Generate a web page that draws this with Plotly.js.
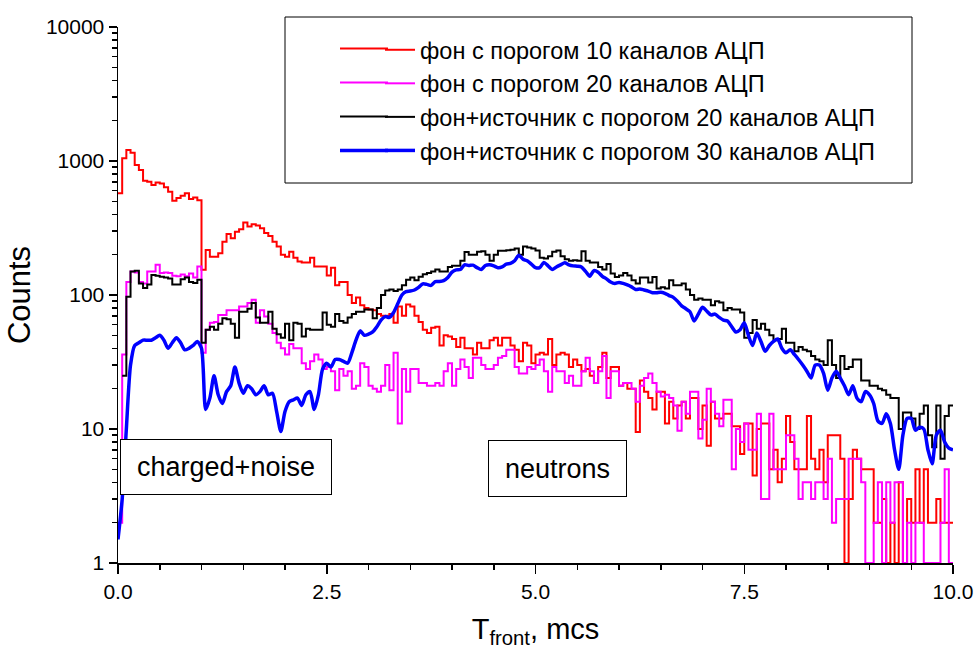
<!DOCTYPE html>
<html>
<head>
<meta charset="utf-8">
<script src="https://cdn.plot.ly/plotly-3.0.1.min.js"></script>
<style>
  html, body { margin: 0; padding: 0; background: #fff; }
  #chart { width: 976px; height: 652px; }
</style>
</head>
<body>
<div id="chart"></div>
<script>
// Histogram bins: 0.05 mcs wide, starting at 0
const binStart = 0;
const binWidth = 0.05;

const seriesNames = [
  "фон с порогом 10 каналов АЦП",
  "фон с порогом 20 каналов АЦП",
  "фон+источник с порогом 20 каналов АЦП",
  "фон+источник с порогом 30 каналов АЦП"
];

// фон, порог 10 (red), 200 bins
const bg10 = [
  574, 1050, 1208, 1153, 934, 857, 713, 700, 662, 690, 680, 637, 590, 506, 530, 550, 575, 520, 535, 510,
  154, 217, 193, 193, 205, 250, 285, 265, 297, 310, 347, 325, 337, 330, 315, 290, 276, 250, 230, 200,
  193, 210, 190, 178, 175, 175, 190, 163, 163, 163,
  140, 160, 118, 125, 125, 100, 87, 96, 84, 80, 78, 77, 72, 70, 70, 72, 62, 82, 70, 85,
  82, 70, 63, 55, 52, 57, 58, 42, 50, 49, 47, 41, 48, 40, 40, 36, 44, 40, 40, 46,
  48, 42, 48, 48, 42, 39, 32, 44, 42, 31, 36,
  37, 36, 47, 30, 36, 37, 36, 29, 33, 30, 27, 28, 25, 22, 29, 37, 24, 29, 29, 21,
  22, 20, 20, 9.5, 23, 19, 17, 14, 19, 19, 11, 16, 12, 15, 16, 12, 17, 17, 10, 15,
  7.5, 16, 12, 12, 13, 13, 10.5, 10.5, 6.5, 11,
  11, 4.5, 10, 11, 11, 5, 7, 4, 6, 12.5, 8, 5, 5, 5, 12.5, 6, 5, 7, 4, 9,
  9, 9, 6, 1, 3, 7, 6, 5, 5, 5, 2, 2, 3, 1, 2, 1, 4, 1, 3, 2,
  5, 2, 5, 2, 2, 3, 2, 2, 2
];

// фон, порог 20 (magenta), 200 bins
const bg20 = [
  2, 36, 125, 150, 147, 125, 122, 150, 150, 168, 146, 147, 146, 139, 138, 142, 138, 145, 135, 163,
  37, 55, 62, 63, 71, 71, 77, 77, 77, 82, 82, 87, 92, 62, 77, 69, 61, 52, 44, 40,
  36, 43, 40, 40, 31, 28, 32, 36, 33, 28,
  29, 27, 19.5, 28, 25, 27, 20, 21, 31, 29, 21, 20, 19, 21, 30, 19.5, 37, 11, 28, 19,
  28, 28, 22, 22, 21, 21, 22, 21, 27, 31, 21, 28, 33, 29, 24, 34, 34, 30, 28, 28,
  30, 34, 35, 39, 39, 29, 26, 26, 29, 28, 30,
  33, 27, 19, 29, 27, 27, 22, 25, 21, 21, 27, 34, 27, 22, 27, 35, 17, 27, 27, 21,
  22, 22, 20, 16, 21, 24, 26, 22, 19, 17.5, 18, 17, 15, 9.7, 16, 13, 19, 19, 8.5, 11.7,
  20, 16, 13, 10.5, 16.5, 16.5, 5, 10, 8, 11,
  7, 7, 13, 3, 3, 13, 5, 5, 5, 9, 9, 6, 3, 4, 4, 3, 4, 4, 3, 6,
  2, 3, 3, 3, 6, 6, 6, 4, 1, 1, 2, 4, 1, 4, 2, 4, 4, 1, 2, 1,
  2, 2, 1, 1, 1, 1, 2, 5, 1
];

// фон+источник, порог 20 (black), 200 bins
const src20 = [
  null, 25, 97, 150, 152, 122, 113, 120, 141, 139, 137, 135, 133, 120, 120, 131, 135, 125, 123, 130,
  44, 55, 58, 55, 61, 67, 66, 61, 48, 75, 75, 79, 87, 68, 62, 62, 75, 56, 51, 48,
  61, 46, 62, 61, 49, 56, 55, 55, 55, 74,
  60, 58, 72, 64, 62, 68, 72, 75, 75, 78, 78, 67, 80, 100, 108, 110, 107, 110, 118, 130,
  135, 129, 137, 143, 146, 150, 155, 150, 150, 162, 165, 165, 180, 209, 200, 200, 210, 212, 200, 180,
  200, 214, 214, 216, 218, 222, 200, 230, 226, 222, 215,
  190, 187, 195, 210, 215, 195, 185, 180, 182, 180, 212, 180, 175, 175, 162, 155, 170, 145, 136, 140,
  146, 140, 129, 122, 135, 135, 124, 136, 112, 114, 112, 129, 118, 118, 122, 110, 100, 92, 94, 92,
  92, 84, 90, 88, 77, 80, 78, 78, 74, 48,
  52, 65, 56, 61, 55, 50, 46, 47, 56, 44, 44, 38, 41, 39, 38, 35, 33, 32, 30, 46,
  30, 24, 35, 28, 29, 33, 33, 23, 23, 21, 21, 20, 19.5, 18, 17, 17, 10, 13.3, 13.3, 12,
  10, 13, 15, 9, 7.3, 15, 6, 12.5, 15
];

// фон+источник, порог 30 (blue, smooth), sampled every 0.05 from 0 to 10
const src30 = [
  1.5, 3, 10, 30, 42, 44, 46, 46, 46, 48, 50, 46, 40, 44, 48, 44, 39, 40, 42, 45,
  40, 14, 17, 25, 18, 15.5, 19, 21, 29, 22, 18.5, 21, 20, 18, 19, 21, 18, 18.5, 13.5, 9.6,
  13.5, 16, 16.5, 17, 15, 18, 19, 14, 18, 28, 31, 29, 33, 33, 32, 31, 37, 46, 54, 50,
  51, 53, 58, 65, 69, 68, 74, 86, 100, 106, 107, 109, 114, 121, 120, 118, 126, 126, 128, 135,
  148, 154, 155, 168, 166, 167, 160, 155, 166, 168, 165, 160, 162, 170, 172, 180, 198, 185, 180, 170,
  160, 160, 175, 165, 155, 162, 168, 174, 168, 165, 164, 162, 150, 138, 152, 148, 138, 132, 125, 122,
  124, 122, 119, 115, 110, 111, 109, 107, 104, 104, 105, 103, 99, 96, 90, 83, 79, 75, 64, 72,
  81, 76, 71, 72, 68, 65, 64, 58, 53, 55, 62, 50, 42, 52, 45, 38, 42, 45, 47, 40,
  37, 39, 36, 33, 30, 27, 24, 30, 30, 26, 19.5, 24, 27, 24, 21, 18, 21, 17, 16, 19,
  18, 15.5, 11.5, 11, 13, 11, 7, 5, 9, 12, 12, 9.8, 10.3, 10, 7, 5.5, 9, 9.8, 8, 7.2, 7
];

const seriesColors = ["#ff0000", "#ff00ff", "#000000", "#0000ff"];
const seriesWidths = [2, 2, 2, 3.5];

const xTickVals = [0, 2.5, 5, 7.5, 10];
const xTickText = ["0.0", "2.5", "5.0", "7.5", "10.0"];

const FONT = "Liberation Sans, Arial, sans-serif";

// bin left edges (+ closing edge) for step histograms
function edges(vals) {
  const xs = vals.map((_, i) => +(binStart + i * binWidth).toFixed(4));
  xs.push(+(binStart + vals.length * binWidth).toFixed(4));
  return xs;
}
function closeStep(vals) {
  return vals.concat([vals[vals.length - 1]]);
}
function samplePos(vals) {
  return vals.map((_, i) => +(binStart + i * binWidth).toFixed(4));
}

const traces = [
  { x: edges(bg10), y: closeStep(bg10), name: seriesNames[0], legendgroup: "a",
    mode: "lines", line: { shape: "hv", color: seriesColors[0], width: seriesWidths[0] } },
  { x: edges(bg20), y: closeStep(bg20), name: seriesNames[1], legendgroup: "b",
    mode: "lines", line: { shape: "hv", color: seriesColors[1], width: seriesWidths[1] } },
  { x: edges(src20), y: closeStep(src20), name: seriesNames[2], legendgroup: "c",
    mode: "lines", line: { shape: "hv", color: seriesColors[2], width: seriesWidths[2] } },
  { x: samplePos(src30), y: src30, name: seriesNames[3], legendgroup: "d",
    mode: "lines", line: { shape: "spline", smoothing: 0.7, color: seriesColors[3], width: seriesWidths[3] } }
];

const P = (px) => (px - 118) / 835;   // paper x from pixel (layout helpers)
const Q = (py) => (563 - py) / 536;   // paper y from pixel

// legend rows (pixel layout of the legend box)
const legendRow0 = 48.5, legendRowStep = 34;

const shapes = [
  { type: "rect", xref: "paper", yref: "paper",
    x0: P(285), x1: P(912), y0: Q(183), y1: Q(17),
    line: { color: "#000", width: 1 }, fillcolor: "rgba(0,0,0,0)" }
];
// lengthen the legend sample lines to the reference's long strokes
seriesColors.forEach((c, i) => {
  const yy = Q(legendRow0 + i * legendRowStep);
  shapes.push({ type: "line", xref: "paper", yref: "paper",
    x0: P(340), x1: P(388), y0: yy, y1: yy,
    line: { color: c, width: seriesWidths[i] } });
});

const layout = {
  width: 976, height: 652,
  margin: { l: 118, r: 23, t: 27, b: 89 },
  paper_bgcolor: "#fff", plot_bgcolor: "#fff",
  font: { family: FONT, color: "#000", size: 20 },
  showlegend: true,
  legend: {
    x: P(380), y: Q(28), xanchor: "left", yanchor: "top",
    bgcolor: "rgba(0,0,0,0)", borderwidth: 0,
    font: { family: FONT, size: 23.5, color: "#000" },
    traceorder: "grouped", tracegroupgap: 0, itemwidth: 30
  },
  xaxis: {
    range: [0, 10], showgrid: false, zeroline: false,
    showline: true, linecolor: "#000", linewidth: 1.5,
    ticks: "outside", ticklen: 9, tickwidth: 1.5, tickcolor: "#000",
    tickmode: "array", tickvals: xTickVals, ticktext: xTickText,
    tickfont: { family: FONT, size: 21 },
    minor: { dtick: 0.5, ticks: "outside", ticklen: 5, tickwidth: 1.5, tickcolor: "#000", showgrid: false },
    title: { text: "T<sub>front</sub>, mcs", font: { family: FONT, size: 29 }, standoff: 17 }
  },
  yaxis: {
    type: "log", range: [0, 4], showgrid: false, zeroline: false,
    showline: true, linecolor: "#000", linewidth: 1.5,
    ticks: "outside", ticklen: 8, tickwidth: 1.5, tickcolor: "#000",
    dtick: 1, tick0: 0, tickformat: "d",
    tickfont: { family: FONT, size: 21 },
    minor: { dtick: "D1", ticks: "outside", ticklen: 5, tickwidth: 1.5, tickcolor: "#000", showgrid: false },
    title: { text: "Counts", font: { family: FONT, size: 31 }, standoff: 6 }
  },
  shapes: shapes,
  annotations: [
    { xref: "paper", yref: "paper", x: P(226), y: Q(467.5), xanchor: "center", yanchor: "middle",
      text: "charged+noise", showarrow: false, font: { family: FONT, size: 27, color: "#000" },
      bgcolor: "#fff", bordercolor: "#000", borderwidth: 1, borderpad: 4, width: 202, height: 46 },
    { xref: "paper", yref: "paper", x: P(557.5), y: Q(468), xanchor: "center", yanchor: "middle",
      text: "neutrons", showarrow: false, font: { family: FONT, size: 27, color: "#000" },
      bgcolor: "#fff", bordercolor: "#000", borderwidth: 1, borderpad: 4, width: 129, height: 47 }
  ]
};

Plotly.newPlot("chart", traces, layout, { displayModeBar: false, staticPlot: true });
</script>
</body>
</html>
